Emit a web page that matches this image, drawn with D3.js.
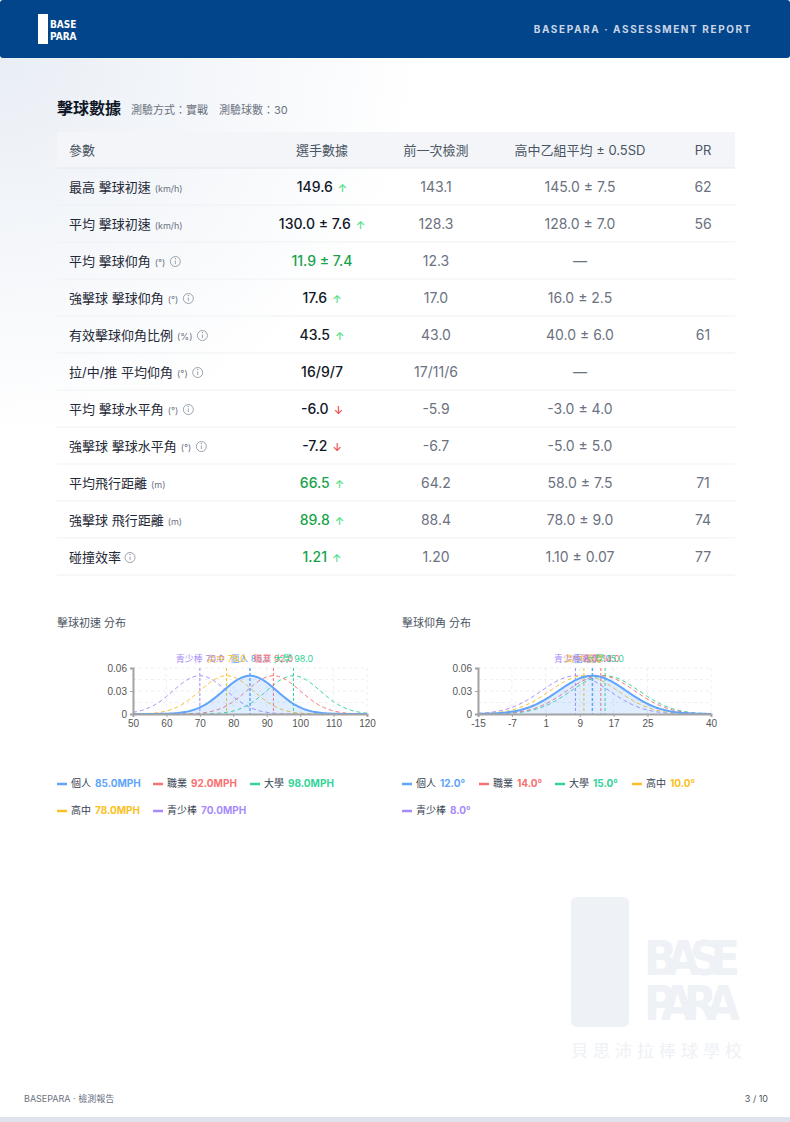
<!DOCTYPE html>
<html><head><meta charset="utf-8">
<script src="https://cdn.jsdelivr.net/npm/d3@7"></script>
<style>
body{margin:0;background:#fff;font-family:Inter,"Noto Sans CJK TC",sans-serif;}
svg{display:block}
</style></head><body>
<svg id="page" width="790" height="1122"></svg>
<script>
// table data
var headers = ["參數", "選手數據", "前一次檢測", "高中乙組平均 ± 0.5SD", "PR"];
var params = ["最高 擊球初速", "平均 擊球初速", "平均 擊球仰角", "強擊球 擊球仰角", "有效擊球仰角比例", "拉/中/推 平均仰角", "平均 擊球水平角", "強擊球 擊球水平角", "平均飛行距離", "強擊球 飛行距離", "碰撞效率"];
var units = ["(km/h)", "(km/h)", "(°)", "(°)", "(%)", "(°)", "(°)", "(°)", "(m)", "(m)", ""];
var infoIcon = [false, false, true, true, true, true, true, true, false, false, true];
var playerVals = ["149.6", "130.0 ± 7.6", "11.9 ± 7.4", "17.6", "43.5", "16/9/7", "-6.0", "-7.2", "66.5", "89.8", "1.21"];
var playerGreen = [false, false, true, false, false, false, false, false, true, true, true];
var trend = ["up", "up", "", "up", "up", "", "down", "down", "up", "up", "up"];
var prevVals = ["143.1", "128.3", "12.3", "17.0", "43.0", "17/11/6", "-5.9", "-6.7", "64.2", "88.4", "1.20"];
var refVals = ["145.0 ± 7.5", "128.0 ± 7.0", "—", "16.0 ± 2.5", "40.0 ± 6.0", "—", "-3.0 ± 4.0", "-5.0 ± 5.0", "58.0 ± 7.5", "78.0 ± 9.0", "1.10 ± 0.07"];
var prVals = ["62", "56", "", "", "61", "", "", "", "71", "74", "77"];

// distribution data
var groups = ["個人", "職業", "大學", "高中", "青少棒"];
var groupColors = ["#60a5fa", "#f87171", "#34d399", "#fbbf24", "#a78bfa"];
var speedMeans = [85, 92, 98, 78, 70];
var speedSd = 8;
var speedTicks = [50, 60, 70, 80, 90, 100, 110, 120];
var angleMeans = [12, 14, 15, 10, 8];
var angleSd = 8;
var angleTicks = [-15, -7, 1, 9, 17, 25, 40];
var yTicks = [0, 0.03, 0.06];

var svg = d3.select("#page");
var defs = svg.append("defs");
var rg = defs.append("radialGradient").attr("id", "glow").attr("cx", "0").attr("cy", "0").attr("r", "1");
rg.append("stop").attr("offset", "0").attr("stop-color", "#e9eef5");
rg.append("stop").attr("offset", "1").attr("stop-color", "#ffffff");
svg.append("rect").attr("x", 0).attr("y", 58).attr("width", 420).attr("height", 380).attr("fill", "url(#glow)");

// header
svg.append("rect").attr("width", 790).attr("height", 58).attr("fill", "#03458a").attr("rx", 3);
svg.append("rect").attr("x", 38).attr("y", 14).attr("width", 10).attr("height", 30).attr("fill", "#fff");
svg.append("text").attr("x", 50).attr("y", 28).attr("fill", "#fff").attr("font-size", 10).attr("font-weight", 700).attr("font-family", "DejaVu Sans Condensed").text("BASE");
svg.append("text").attr("x", 50).attr("y", 40).attr("fill", "#fff").attr("font-size", 10).attr("font-weight", 700).attr("font-family", "DejaVu Sans Condensed").text("PARA");
svg.append("text").attr("x", 752).attr("y", 33).attr("text-anchor", "end").attr("fill", "#c9d6e8")
  .attr("font-size", 10).attr("font-weight", 700).attr("letter-spacing", 1.6).text("BASEPARA · ASSESSMENT REPORT");

// title
var t = svg.append("text").attr("x", 57).attr("y", 114);
t.append("tspan").attr("font-size", 16).attr("font-weight", 700).attr("fill", "#111827").text("擊球數據");
t.append("tspan").attr("dx", 10).attr("font-size", 11).attr("fill", "#6b7280").text("測驗方式：實戰　測驗球數：30");

// table
var colX = [69, 322, 436, 580, 703];
svg.append("rect").attr("x", 57).attr("y", 132).attr("width", 678).attr("height", 36).attr("fill", "#f3f5f9");
svg.append("line").attr("x1", 57).attr("x2", 735).attr("y1", 168).attr("y2", 168).attr("stroke", "#e3e8ef");
headers.forEach(function (h, i) {
  svg.append("text").attr("x", colX[i]).attr("y", 155).attr("text-anchor", i ? "middle" : "start")
    .attr("font-size", 13).attr("fill", "#4b5563").text(h);
});
var rowY = d3.scaleBand().domain(d3.range(params.length)).range([168, 575]);
var rows = svg.selectAll("g.row").data(params).join("g").attr("class", "row")
  .attr("transform", function (d, i) { return "translate(0," + (rowY(i) + rowY.bandwidth() / 2) + ")"; });
rows.append("line").attr("x1", 57).attr("x2", 735).attr("y1", rowY.bandwidth() / 2).attr("y2", rowY.bandwidth() / 2).attr("stroke", "#eef1f5");
rows.each(function (d, i) {
  var g = d3.select(this);
  var txt = g.append("text").attr("x", 69).attr("y", 5).attr("font-size", 13).attr("fill", "#1f2937");
  txt.append("tspan").text(d);
  if (units[i]) txt.append("tspan").attr("dx", 4).attr("font-size", 9).attr("fill", "#6b7280").text(units[i]);
  if (infoIcon[i]) {
    var w = txt.node().getComputedTextLength();
    var cx = 69 + w + (units[i] ? 14 : 9);
    g.append("circle").attr("cx", cx).attr("cy", 1).attr("r", 5).attr("fill", "none").attr("stroke", "#9ca3af");
    g.append("line").attr("x1", cx).attr("x2", cx).attr("y1", 0).attr("y2", 3.5).attr("stroke", "#9ca3af");
    g.append("circle").attr("cx", cx).attr("cy", -2).attr("r", 0.7).attr("fill", "#9ca3af");
  }
  var pv = g.append("text").attr("x", colX[1]).attr("y", 5).attr("text-anchor", "middle").attr("font-size", 14)
    .attr("font-weight", 500).attr("fill", playerGreen[i] ? "#16a34a" : "#111827");
  pv.append("tspan").text(playerVals[i]);
  if (trend[i]) pv.append("tspan").attr("dx", 5).attr("font-size", 11)
    .attr("fill", trend[i] === "up" ? "#4ade80" : "#ef4444").text(trend[i] === "up" ? "↑" : "↓");
  [prevVals[i], refVals[i], prVals[i]].forEach(function (v, k) {
    g.append("text").attr("x", colX[k + 2]).attr("y", 5).attr("text-anchor", "middle").attr("font-size", 14)
      .attr("fill", "#6b7280").text(v);
  });
});

// distribution charts
function pdf(x, m, s) { return Math.exp(-0.5 * Math.pow((x - m) / s, 2)) / (s * Math.sqrt(2 * Math.PI)); }

function drawChart(title, ox, x0, x1, ticks, means, sd, unit, legendCols) {
  var g = svg.append("g");
  g.append("text").attr("x", ox).attr("y", 627).attr("font-size", 11).attr("fill", "#4b5563").text(title);
  var x = d3.scaleLinear().domain([ticks[0], ticks[ticks.length - 1]]).range([x0, x1]);
  var y = d3.scaleLinear().domain([0, 0.06]).range([714, 668]);
  d3.range(0, 0.061, 0.015).forEach(function (v) {
    g.append("line").attr("x1", x0).attr("x2", x1).attr("y1", y(v)).attr("y2", y(v)).attr("stroke", "#eceff3").attr("stroke-dasharray", "3,3");
  });
  ticks.forEach(function (v) {
    g.append("line").attr("x1", x(v)).attr("x2", x(v)).attr("y1", 668).attr("y2", 714).attr("stroke", "#eceff3").attr("stroke-dasharray", "3,3");
  });
  var xs = d3.range(x.domain()[0], x.domain()[1] + 0.01, (x.domain()[1] - x.domain()[0]) / 140);
  var line = d3.line().x(function (d) { return x(d[0]); }).y(function (d) { return y(d[1]); });
  var area = d3.area().x(function (d) { return x(d[0]); }).y0(y(0)).y1(function (d) { return y(d[1]); });
  for (var k = means.length - 1; k >= 0; k--) {
    var pts = xs.map(function (v) { return [v, pdf(v, means[k], sd)]; });
    if (k === 0) g.append("path").attr("d", area(pts)).attr("fill", "#60a5fa").attr("fill-opacity", 0.2);
    g.append("path").attr("d", line(pts)).attr("fill", "none").attr("stroke", groupColors[k])
      .attr("stroke-width", k === 0 ? 2 : 1).attr("stroke-dasharray", k === 0 ? null : "4,3");
    g.append("line").attr("x1", x(means[k])).attr("x2", x(means[k])).attr("y1", 668).attr("y2", 714)
      .attr("stroke", groupColors[k]).attr("stroke-width", k === 0 ? 1.5 : 1).attr("stroke-dasharray", "3,2");
  }
  means.forEach(function (m, k) {
    g.append("text").attr("x", x(m)).attr("y", 662).attr("text-anchor", "middle").attr("font-size", 9)
      .attr("fill", groupColors[k]).text(groups[k] + " " + m.toFixed(1));
  });
  g.append("g").attr("transform", "translate(" + x0 + ",0)")
    .call(d3.axisLeft(y).tickValues(yTicks).tickFormat(function (d) { return d === 0 ? "0" : d.toFixed(2); }).tickSize(3));
  g.append("g").attr("transform", "translate(0,714)")
    .call(d3.axisBottom(x).tickValues(ticks).tickFormat(function (d) { return String(d); }).tickSize(3));
  g.selectAll(".domain").attr("stroke", "#a3a3a3").attr("stroke-width", 2);
  g.selectAll(".tick line").attr("stroke", "#a3a3a3");
  g.selectAll(".tick text").attr("fill", "#555").attr("font-size", 10);

  groups.forEach(function (name, k) {
    var lx = legendCols[k % legendCols.length] , ly = k < legendCols.length ? 787 : 814;
    g.append("line").attr("x1", lx).attr("x2", lx + 10).attr("y1", ly - 3).attr("y2", ly - 3)
      .attr("stroke", groupColors[k]).attr("stroke-width", 2.5);
    var tx = g.append("text").attr("x", lx + 14).attr("y", ly).attr("font-size", 10);
    tx.append("tspan").attr("fill", "#374151").text(name);
    tx.append("tspan").attr("dx", 4).attr("fill", groupColors[k]).attr("font-weight", 700).text(means[k].toFixed(1) + unit);
  });
}
drawChart("擊球初速 分布", 57, 133, 367, speedTicks, speedMeans, speedSd, "MPH", [57, 153, 250]);
drawChart("擊球仰角 分布", 402, 478, 711, angleTicks, angleMeans, angleSd, "°", [402, 479, 555, 632]);

// watermark
var wm = svg.append("g").attr("fill", "#eef1f5");
wm.append("rect").attr("x", 571).attr("y", 897).attr("width", 58).attr("height", 130).attr("rx", 6);
wm.append("text").attr("x", 644).attr("y", 975).attr("font-size", 48).attr("font-weight", 700).attr("font-family", "DejaVu Sans Condensed").attr("textLength", 96).text("BASE");
wm.append("text").attr("x", 644).attr("y", 1020).attr("font-size", 48).attr("font-weight", 700).attr("font-family", "DejaVu Sans Condensed").attr("textLength", 96).text("PARA");
wm.append("text").attr("x", 571).attr("y", 1057).attr("font-size", 17).attr("letter-spacing", 5).text("貝思沛拉棒球學校");

// footer
svg.append("text").attr("x", 24).attr("y", 1102).attr("font-size", 9).attr("fill", "#6b7280").text("BASEPARA · 檢測報告");
svg.append("text").attr("x", 768).attr("y", 1102).attr("text-anchor", "end").attr("font-size", 9).attr("fill", "#4b5563").text("3 / 10");
svg.append("rect").attr("x", 0).attr("y", 1117).attr("width", 790).attr("height", 5).attr("fill", "#dde4ee");
</script>
</body></html>
